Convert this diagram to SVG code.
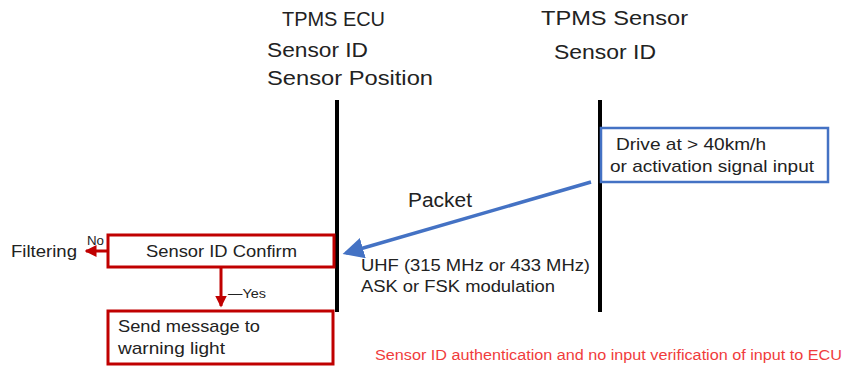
<svg xmlns="http://www.w3.org/2000/svg" width="845" height="369" viewBox="0 0 845 369">
<style>
text{font-family:"Liberation Sans","Noto Sans",sans-serif;fill:#222}
.h{font-size:20px}
.m{font-size:17px}
.s{font-size:16px}
.t{font-size:12px}
.life{stroke:#000;stroke-width:4}
.rbox{fill:#fff;stroke:#C00000;stroke-width:3}
.bbox{fill:#fff;stroke:#4472C4;stroke-width:2.5}
.red{stroke:#C00000;stroke-width:3;fill:none}
</style>
<defs>
<marker id="ab" markerWidth="6" markerHeight="6" refX="5" refY="3" orient="auto" markerUnits="strokeWidth"><path d="M0,0 L6,3 L0,6 Z" fill="#4472C4"/></marker>
<marker id="ar" markerWidth="4" markerHeight="4" refX="3.5" refY="2" orient="auto" markerUnits="strokeWidth"><path d="M0,0 L4,2 L0,4 Z" fill="#C00000"/></marker>
</defs>
<g id="ecu">
<text class="h" x="282" y="26" textLength="103" lengthAdjust="spacingAndGlyphs">TPMS ECU</text>
<text class="h" x="267" y="57" textLength="101" lengthAdjust="spacingAndGlyphs">Sensor ID</text>
<text class="h" x="267" y="85" textLength="166" lengthAdjust="spacingAndGlyphs">Sensor Position</text>
<line class="life" x1="337" y1="100" x2="337" y2="312"/>
</g>
<g id="sensor">
<text class="h" x="541" y="25" textLength="147" lengthAdjust="spacingAndGlyphs">TPMS Sensor</text>
<text class="h" x="554" y="59" textLength="102" lengthAdjust="spacingAndGlyphs">Sensor ID</text>
<line class="life" x1="600" y1="100" x2="600" y2="312"/>
</g>
<g id="drive">
<rect class="bbox" x="601" y="128" width="227" height="54"/>
<text class="m" x="616" y="150" textLength="150" lengthAdjust="spacingAndGlyphs">Drive at &gt; 40km/h</text>
<text class="m" x="610" y="172" textLength="204" lengthAdjust="spacingAndGlyphs">or activation signal input</text>
</g>
<g id="confirm">
<rect class="rbox" x="108" y="235" width="226" height="32"/>
<text class="m" x="146" y="257" textLength="151" lengthAdjust="spacingAndGlyphs">Sensor ID Confirm</text>
</g>
<g id="filtering">
<text class="m" x="11" y="257" textLength="66" lengthAdjust="spacingAndGlyphs">Filtering</text>
</g>
<g id="send">
<rect class="rbox" x="108" y="311" width="225" height="53"/>
<text class="m" x="118" y="332" textLength="142" lengthAdjust="spacingAndGlyphs">Send message to</text>
<text class="m" x="118" y="354" textLength="107" lengthAdjust="spacingAndGlyphs">warning light</text>
</g>
<g id="connectors">
<line x1="591" y1="182" x2="346" y2="253" stroke="#4472C4" stroke-width="3.5" marker-end="url(#ab)"/>
<text class="h" x="408" y="207" textLength="64" lengthAdjust="spacingAndGlyphs">Packet</text>
<text class="s" x="361" y="271" textLength="229" lengthAdjust="spacingAndGlyphs">UHF (315 MHz or 433 MHz)</text>
<text class="s" x="361" y="292" textLength="194" lengthAdjust="spacingAndGlyphs">ASK or FSK modulation</text>
<line class="red" x1="107" y1="251" x2="86" y2="251" marker-end="url(#ar)"/>
<text class="t" x="87" y="245" textLength="17" lengthAdjust="spacingAndGlyphs">No</text>
<line class="red" x1="221" y1="268" x2="221" y2="306" marker-end="url(#ar)"/>
<text class="t" x="228" y="298" textLength="38" lengthAdjust="spacingAndGlyphs">—Yes</text>
</g>
<text x="375" y="360" textLength="467" lengthAdjust="spacingAndGlyphs" style="font-size:14px;fill:#F03C3C">Sensor ID authentication and no input verification of input to ECU</text>
</svg>
